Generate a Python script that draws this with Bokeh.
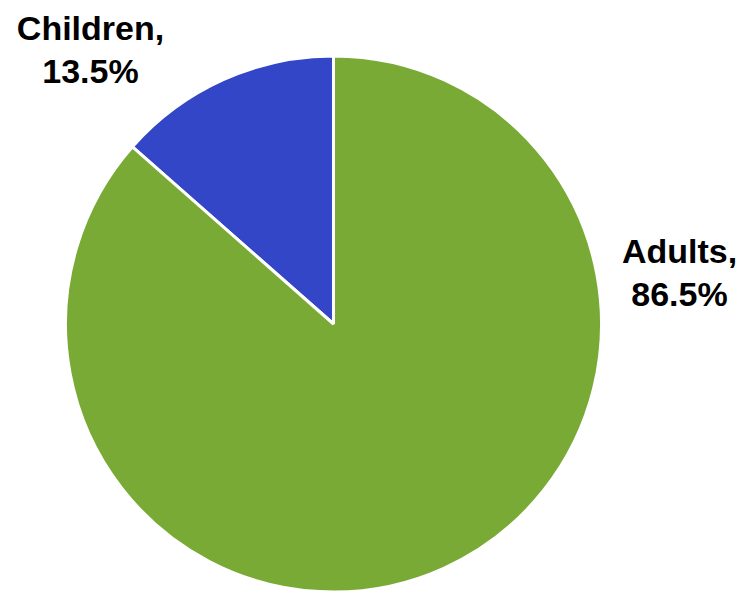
import math
from bokeh.plotting import figure
from bokeh.models import ColumnDataSource, Range1d
from bokeh.core.properties import value
from bokeh.embed import file_html
from bokeh.resources import INLINE

categories = ["Children", "Adults"]
shares = [13.5, 86.5]
colors = ["#3446c8", "#7aaa36"]

W, H = 741, 592
cx, cy, r = 333, H - 323.5, 268

starts, ends = [], []
a = math.pi / 2
for s in shares:
    starts.append(a)
    a += s / 100 * 2 * math.pi
    ends.append(a)

src = ColumnDataSource(dict(cat=categories, share=shares, color=colors,
                            start=starts, end=ends))

p = figure(width=W, height=H, output_backend="svg", toolbar_location=None,
           x_range=Range1d(0, W), y_range=Range1d(0, H), min_border=0)
p.axis.visible = False
p.grid.visible = False
p.outline_line_color = None
p.background_fill_color = "white"
p.border_fill_color = "white"

p.wedge(x=cx, y=cy, radius=r, start_angle="start", end_angle="end",
        direction="anticlock", fill_color="color", line_color="white",
        line_width=3, source=src)

label_pos = {"Children": (90, 27), "Adults": (679, 250)}
lx, ly1, ly2, t1, t2 = [], [], [], [], []
for c, s in zip(categories, shares):
    x, y = label_pos[c]
    lx.append(x)
    ly1.append(H - y)
    ly2.append(H - y - 43)
    t1.append(f"{c},")
    t2.append(f"{s:.1f}%")

lsrc = ColumnDataSource(dict(x=lx + lx, y=ly1 + ly2, t=t1 + t2))
p.text(x="x", y="y", text="t", source=lsrc, text_align="center",
       text_baseline="alphabetic", text_font=value("Liberation Sans"),
       text_font_style="bold", text_font_size="34px", text_color="black")

open("out.html", "w").write(file_html(p, INLINE))
